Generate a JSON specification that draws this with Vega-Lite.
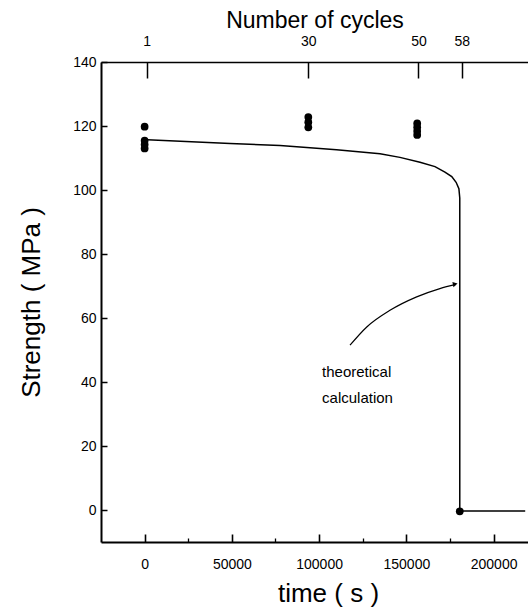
{
  "$schema": "https://vega.github.io/schema/vega-lite/v6.json",
  "width": 427,
  "height": 480,
  "autosize": {"type": "none"},
  "padding": {"left": 101, "top": 62, "right": 0, "bottom": 65},
  "background": "white",
  "config": {
    "view": {"stroke": null},
    "font": "Liberation Sans",
    "axis": {
      "grid": false,
      "domainColor": "black",
      "tickColor": "black",
      "labelColor": "black",
      "titleColor": "black",
      "titleFontWeight": "normal",
      "labelFont": "Liberation Sans",
      "titleFont": "Liberation Sans"
    }
  },
  "datasets": {
    "measured": [
      {"t": 0, "s": 119.8},
      {"t": 0, "s": 115.4},
      {"t": 0, "s": 114.2},
      {"t": 0, "s": 113.0},
      {"t": 93800, "s": 122.8},
      {"t": 93800, "s": 121.2},
      {"t": 93800, "s": 119.6},
      {"t": 156200, "s": 120.8},
      {"t": 156200, "s": 119.6},
      {"t": 156200, "s": 118.4},
      {"t": 156200, "s": 117.2},
      {"t": 180600, "s": -0.4}
    ],
    "theory": [
      {"o": 1, "t": 1500, "s": 115.7},
      {"o": 2, "t": 49000, "s": 114.5},
      {"o": 3, "t": 77600, "s": 113.9},
      {"o": 4, "t": 110000, "s": 112.6},
      {"o": 5, "t": 134900, "s": 111.3},
      {"o": 6, "t": 146300, "s": 110.2},
      {"o": 7, "t": 157800, "s": 108.7},
      {"o": 8, "t": 166400, "s": 107.3},
      {"o": 9, "t": 172100, "s": 105.6},
      {"o": 10, "t": 176000, "s": 104.2},
      {"o": 11, "t": 178500, "s": 102.4},
      {"o": 12, "t": 180100, "s": 100.4},
      {"o": 13, "t": 180600, "s": 97.5},
      {"o": 14, "t": 180600, "s": -0.3},
      {"o": 15, "t": 218100, "s": -0.3}
    ],
    "arrow": [
      {"o": 1, "t": 117700, "s": 51.5},
      {"o": 2, "t": 127300, "s": 57.2},
      {"o": 3, "t": 140600, "s": 62.4},
      {"o": 4, "t": 155900, "s": 66.6},
      {"o": 5, "t": 169200, "s": 69.2},
      {"o": 6, "t": 178300, "s": 70.5}
    ],
    "arrowhead": [
      {"t": 178000, "s": 70.6}
    ],
    "notes": [
      {"t": 101700, "s": 41.6, "label": "theoretical"},
      {"t": 101700, "s": 33.4, "label": "calculation"}
    ]
  },
  "resolve": {"axis": {"x": "independent"}},
  "layer": [
    {
      "data": {"name": "measured"},
      "mark": {"type": "circle", "color": "black", "opacity": 1, "size": 60},
      "encoding": {
        "x": {
          "field": "t",
          "type": "quantitative",
          "scale": {"domain": [-25000, 219700], "nice": false, "zero": false},
          "axis": {
            "orient": "bottom",
            "values": [0, 50000, 100000, 150000, 200000],
            "format": "d",
            "title": "time ( s )",
            "titleFontSize": 26,
            "titleX": 227,
            "titleY": 59,
            "titleBaseline": "alphabetic",
            "labelFontSize": 14,
            "labelPadding": 23,
            "tickSize": -8,
            "tickWidth": 1.6,
            "domainWidth": 2
          }
        },
        "y": {
          "field": "s",
          "type": "quantitative",
          "scale": {"domain": [-10, 140], "nice": false, "zero": false},
          "axis": {
            "values": [0, 20, 40, 60, 80, 100, 120, 140],
            "title": "Strength ( MPa )",
            "titleFontSize": 26,
            "titleX": -70,
            "titleBaseline": "middle",
            "labelFontSize": 14,
            "labelPadding": 11,
            "tickSize": -6,
            "tickWidth": 1.5,
            "domainWidth": 2
          }
        }
      }
    },
    {
      "data": {"name": "theory"},
      "mark": {"type": "line", "color": "black", "strokeWidth": 1.5},
      "encoding": {
        "x": {
          "field": "t",
          "type": "quantitative",
          "axis": {
            "orient": "top",
            "values": [1200, 93800, 156900, 181800],
            "labelExpr": "datum.value < 50000 ? '1' : datum.value < 120000 ? '30' : datum.value < 170000 ? '50' : '58'",
            "title": "Number of cycles",
            "titleFontSize": 23,
            "titleY": -35,
            "titleBaseline": "alphabetic",
            "labelFontSize": 14,
            "labelPadding": 30,
            "tickSize": -16,
            "tickWidth": 1.5,
            "domainWidth": 1.5
          }
        },
        "y": {"field": "s", "type": "quantitative"},
        "order": {"field": "o", "type": "quantitative"}
      }
    },
    {
      "data": {"name": "arrow"},
      "mark": {"type": "line", "color": "black", "strokeWidth": 1.2, "interpolate": "monotone"},
      "encoding": {
        "x": {
          "field": "t",
          "type": "quantitative",
          "axis": {
            "orient": "bottom",
            "values": [25000, 75000, 125000, 175000],
            "labels": false,
            "domain": false,
            "title": null,
            "tickSize": -4,
            "tickWidth": 1.3
          }
        },
        "y": {"field": "s", "type": "quantitative"},
        "order": {"field": "o", "type": "quantitative"}
      }
    },
    {
      "data": {"name": "arrowhead"},
      "mark": {"type": "point", "shape": "triangle-right", "filled": true, "color": "black", "opacity": 1, "size": 30, "angle": -12},
      "encoding": {
        "x": {"field": "t", "type": "quantitative", "axis": null},
        "y": {"field": "s", "type": "quantitative"}
      }
    },
    {
      "data": {"name": "notes"},
      "mark": {"type": "text", "align": "left", "baseline": "alphabetic", "fontSize": 15, "color": "black", "font": "Liberation Sans"},
      "encoding": {
        "x": {"field": "t", "type": "quantitative", "axis": null},
        "y": {"field": "s", "type": "quantitative"},
        "text": {"field": "label"}
      }
    }
  ]
}
